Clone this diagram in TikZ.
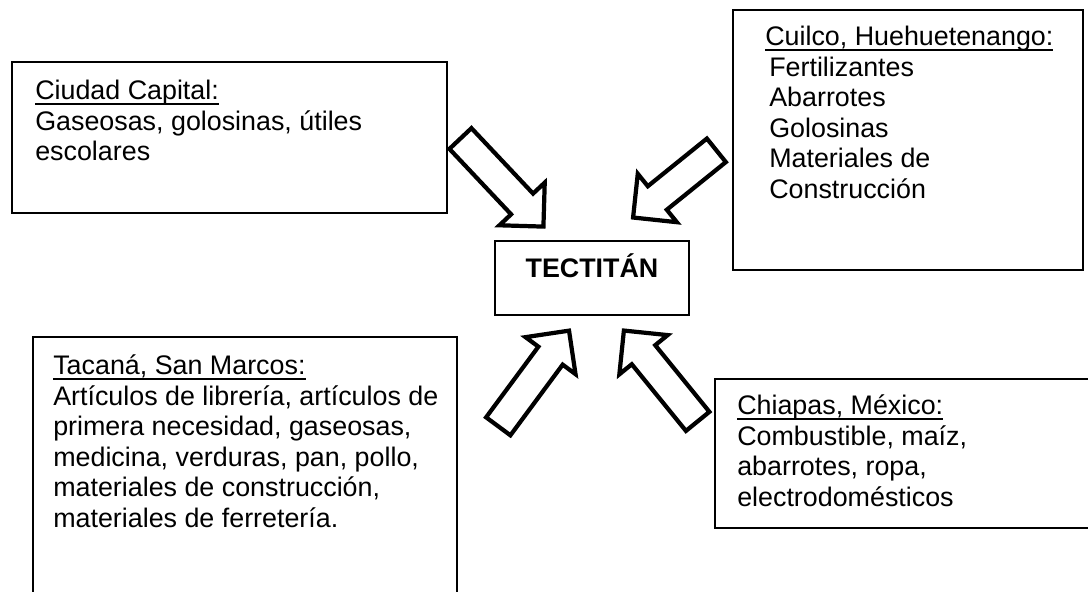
\documentclass[tikz,border=0pt]{standalone}
\usepackage{fontspec}
\setmainfont{Liberation Sans}
\usepackage{tikz}
\usetikzlibrary{shapes.arrows}

\newcommand{\px}{0.25mm}
\newcommand{\boxfont}{\fontsize{19.1pt}{21.7pt}\selectfont}
\newsavebox{\ulbox}
\newcommand{\ulined}[1]{\sbox{\ulbox}{#1}\rlap{\rule[-1.3mm]{\wd\ulbox}{1pt}}\usebox{\ulbox}}

\tikzset{
  frame/.style={draw, line width=1.2pt},
  listtext/.style={anchor=north west, align=left, inner sep=0pt, font=\boxfont},
  inarrow/.style={single arrow, draw, fill=white, line width=3pt, inner xsep=0pt,
    inner ysep=13*\px, text height=0pt, text depth=0pt, single arrow head extend=16*\px, anchor=tail}
}

\begin{document}
\begin{tikzpicture}[x=\px, y=-\px]
        \useasboundingbox (0,0) rectangle (1088,592);
        \clip (0,0) rectangle (1088,592);

        % Boxes
        \draw [frame] (12,62) rectangle (447,213);
        \draw [frame] (733,10) rectangle (1083,270);
        \draw [frame] (33,337) rectangle (457,610);
        \draw [frame] (715,379) rectangle (1100,528);

        % Nodes
        \node [listtext] (capital) at (35,78) {\strut\ulined{Ciudad Capital:}\\
          Gaseosas, golosinas, útiles\\ escolares};
        \node [listtext] (cuilco) at (765,24) {\strut\ulined{Cuilco, Huehuetenango:}\\
          \hspace{1mm}Fertilizantes\\ \hspace{1mm}Abarrotes\\ \hspace{1mm}Golosinas\\
          \hspace{1mm}Materiales de\\ \hspace{1mm}Construcción};
        \node [listtext] (tacana) at (53,353) {\strut\ulined{Tacaná, San Marcos:}\\
          Artículos de librería, artículos de\\ primera necesidad, gaseosas,\\
          medicina, verduras, pan, pollo,\\ materiales de construcción,\\
          materiales de ferretería.};
        \node [listtext] (chiapas) at (737,393) {\strut\ulined{Chiapas, México:}\\
          Combustible, maíz,\\ abarrotes, ropa,\\ electrodomésticos};
        \node [rectangle, frame, font=\boxfont\bfseries, minimum width=194*\px, minimum height=74*\px,
          text height=19*\px, text depth=20*\px, inner sep=0pt] (tectitan) at (592,278) {TECTITÁN};

        % Arrows
        \node [inarrow, minimum height=121*\px, rotate=-46.7] (fromcapital) at (459,137) {};
        \node [inarrow, minimum height=107*\px, rotate=218.9] (fromcuilco) at (718,149) {};
        \node [inarrow, minimum height=119*\px, rotate=53.5] (fromtacana) at (497,428) {};
        \node [inarrow, minimum height=117*\px, rotate=129.1] (fromchiapas) at (699,423) {};
    \end{tikzpicture}
\end{document}
